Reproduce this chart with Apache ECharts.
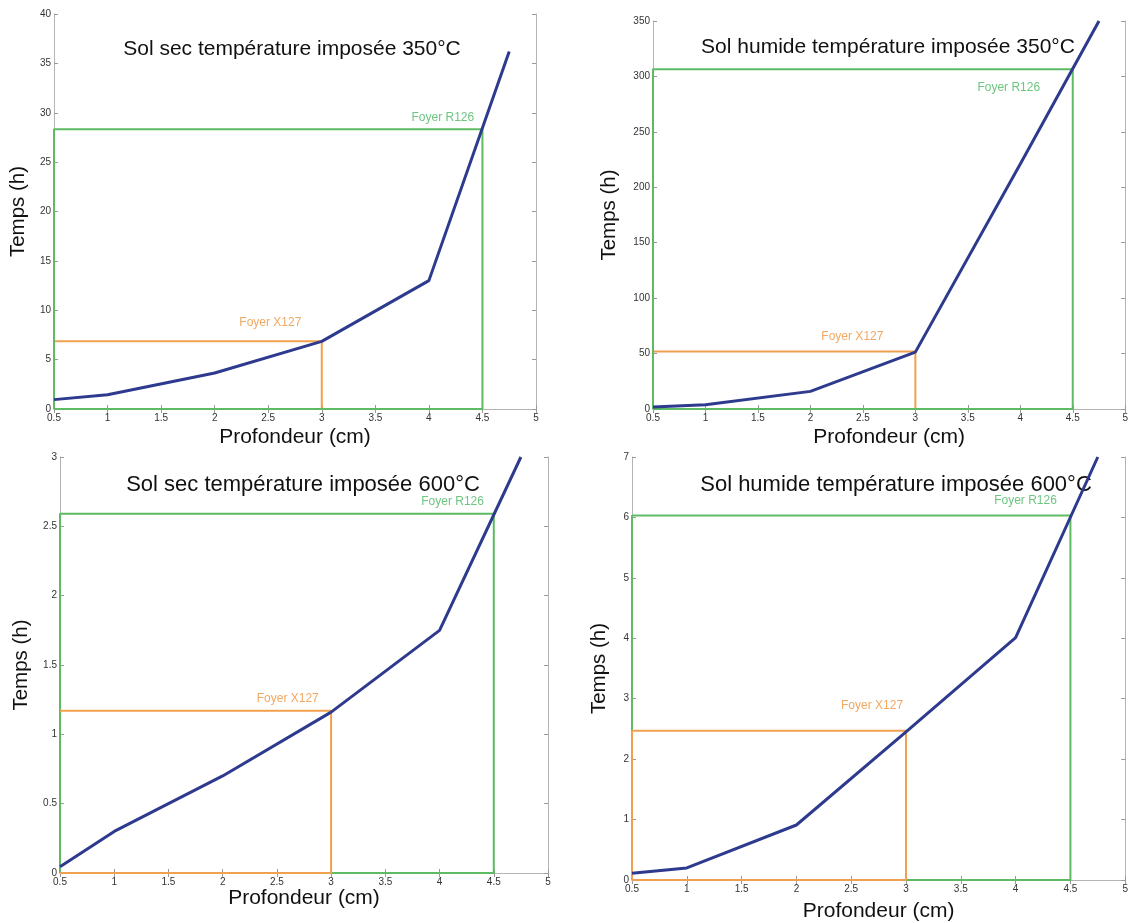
<!DOCTYPE html>
<html>
<head>
<meta charset="utf-8">
<title>Temps de propagation selon la profondeur</title>
<script src="https://cdn.jsdelivr.net/npm/echarts@6/dist/echarts.min.js"></script>
<style>
  html, body { margin: 0; padding: 0; background: #ffffff; }
  #chart { width: 1131px; height: 923px; }
</style>
</head>
<body>
<div id="chart"></div>
<script>
// Profondeur (cm) of the simulated points
const depth = [0.5, 1, 2, 3, 4, 4.75];

// Temps (h) for each scenario
const tempsSec350 = [0.95, 1.45, 3.65, 6.85, 13.0, 36.2];
const tempsHumide350 = [1.8, 3.9, 15.9, 51.3, 221, 350];
const tempsSec600 = [0.045, 0.30, 0.70, 1.16, 1.75, 3.0];
const tempsHumide600 = [0.11, 0.20, 0.91, 2.45, 4.01, 7.0];

// Hearths: name and depth of the reference level
const foyerNames = ['Foyer X127', 'Foyer R126'];
const foyerDepths = [3, 4.5];

// Temps (h) reached at each hearth depth, per scenario
const foyerSec350 = [6.85, 28.33];
const foyerHumide350 = [51.9, 306.5];
const foyerSec600 = [1.17, 2.59];
const foyerHumide600 = [2.47, 6.03];

// Panel titles and axis ticks
const titles = [
  'Sol sec température imposée 350°C',
  'Sol humide température imposée 350°C',
  'Sol sec température imposée 600°C',
  'Sol humide température imposée 600°C'
];
const xTicks = { min: 0.5, max: 5, step: 0.5 };
const yTicks = [
  { min: 0, max: 40, step: 5 },
  { min: 0, max: 350, step: 50 },
  { min: 0, max: 3, step: 0.5 },
  { min: 0, max: 7, step: 1 }
];

const panelData = [
  { temps: tempsSec350, foyer: foyerSec350 },
  { temps: tempsHumide350, foyer: foyerHumide350 },
  { temps: tempsSec600, foyer: foyerSec600 },
  { temps: tempsHumide600, foyer: foyerHumide600 }
];

// ---- layout & styling ----
const FONT = "'Liberation Sans', Arial, Helvetica, sans-serif";
const BLUE = '#2e3a8e';
const GREEN = '#5dbb63';
const ORANGE = '#f0a04e';
const GREEN_TXT = '#6cc680';
const ORANGE_TXT = '#f2a862';

const layout = [
  { grid: { left: 54, top: 14, width: 482, height: 395 }, title: [287, 34], titleSize: 21, xGap: 18, yGap: 25,
    labelPos: [[2.52, 8.7], [4.13, 29.45]], orangeFirst: true, orangeOpen: false },
  { grid: { left: 653, top: 21, width: 475, height: 388 }, title: [883, 32], titleSize: 21, xGap: 18, yGap: 33,
    labelPos: [[2.40, 65.4], [3.89, 290]], orangeFirst: true, orangeOpen: false },
  { grid: { left: 60, top: 457, width: 488, height: 416 }, title: [298, 469], titleSize: 22, xGap: 15, yGap: 28,
    labelPos: [[2.60, 1.26], [4.12, 2.675]], orangeFirst: false, orangeOpen: true },
  { grid: { left: 632, top: 457, width: 498, height: 423 }, title: [891, 469], titleSize: 22, xGap: 21, yGap: 22,
    labelPos: [[2.69, 2.88], [4.09, 6.27]], orangeFirst: false, orangeOpen: false }
];

const grids = [], xAxes = [], yAxes = [], series = [], titleOpts = [];

function fmt(v) {
  return String(Math.round(v * 100) / 100);
}

layout.forEach((L, i) => {
  grids.push(Object.assign({ containLabel: false }, L.grid));

  titleOpts.push({
    text: titles[i],
    left: L.title[0],
    top: L.title[1],
    textAlign: 'center',
    textStyle: { fontFamily: FONT, fontSize: L.titleSize, fontWeight: 'normal', color: '#111' }
  });

  const axisLine = { show: true, lineStyle: { color: '#b4b4b4', width: 1 } };
  const tickStyle = { show: true, inside: true, length: 4, lineStyle: { color: '#9a9a9a', width: 1 } };
  const tickLabel = { fontFamily: FONT, fontSize: 10, color: '#333', margin: 3, formatter: fmt };

  // bottom x axis with labels
  xAxes.push({
    type: 'value', gridIndex: i, position: 'bottom',
    min: xTicks.min, max: xTicks.max, interval: xTicks.step,
    name: 'Profondeur (cm)', nameLocation: 'middle', nameGap: L.xGap,
    nameTextStyle: { fontFamily: FONT, fontSize: 21, color: '#111' },
    axisLine: axisLine, axisTick: tickStyle,
    axisLabel: Object.assign({}, tickLabel, { margin: 4 }),
    splitLine: { show: false }
  });
  // top x axis: box edge with mirrored ticks
  xAxes.push({
    type: 'value', gridIndex: i, position: 'top',
    min: xTicks.min, max: xTicks.max, interval: xTicks.step,
    axisLine: axisLine, axisTick: tickStyle, axisLabel: { show: false },
    splitLine: { show: false }
  });

  const yt = yTicks[i];
  yAxes.push({
    type: 'value', gridIndex: i, position: 'left',
    min: yt.min, max: yt.max, interval: yt.step,
    name: 'Temps (h)', nameLocation: 'middle', nameGap: L.yGap,
    nameTextStyle: { fontFamily: FONT, fontSize: 20.5, color: '#111' },
    axisLine: axisLine, axisTick: tickStyle, axisLabel: tickLabel,
    splitLine: { show: false }
  });
  yAxes.push({
    type: 'value', gridIndex: i, position: 'right',
    min: yt.min, max: yt.max, interval: yt.step,
    axisLine: axisLine, axisTick: tickStyle, axisLabel: { show: false },
    splitLine: { show: false }
  });

  const xi = i * 2, yi = i * 2;
  const d = panelData[i];

  // hearth rectangles built from depth and reached time
  function rect(k, open) {
    const x0 = depth[0], x1 = foyerDepths[k], h = d.foyer[k];
    return open
      ? [[x0, h], [x1, h], [x1, 0], [x0, 0]]
      : [[x0, 0], [x0, h], [x1, h], [x1, 0], [x0, 0]];
  }
  function label(k, color) {
    return {
      symbol: 'circle', symbolSize: 0, silent: true,
      label: { show: true, position: 'inside', formatter: foyerNames[k],
               fontFamily: FONT, fontSize: 12, color: color },
      data: [{ coord: L.labelPos[k] }]
    };
  }
  const orange = {
    type: 'line', xAxisIndex: xi, yAxisIndex: yi, data: rect(0, L.orangeOpen),
    symbol: 'none', silent: true, animation: false,
    lineStyle: { color: ORANGE, width: 2 }, z: L.orangeFirst ? 2 : 4,
    markPoint: label(0, ORANGE_TXT)
  };
  const green = {
    type: 'line', xAxisIndex: xi, yAxisIndex: yi, data: rect(1, false),
    symbol: 'none', silent: true, animation: false,
    lineStyle: { color: GREEN, width: 2 }, z: L.orangeFirst ? 4 : 2,
    markPoint: label(1, GREEN_TXT)
  };
  if (L.orangeFirst) { series.push(orange, green); } else { series.push(green, orange); }

  series.push({
    type: 'line', xAxisIndex: xi, yAxisIndex: yi,
    data: depth.map((x, j) => [x, d.temps[j]]),
    symbol: 'none', animation: false, clip: true,
    lineStyle: { color: BLUE, width: 3 }, z: 6
  });
});

const chart = echarts.init(document.getElementById('chart'), null, { renderer: 'canvas' });
chart.setOption({
  backgroundColor: '#ffffff',
  animation: false,
  title: titleOpts,
  grid: grids,
  xAxis: xAxes,
  yAxis: yAxes,
  series: series
});
</script>
</body>
</html>
